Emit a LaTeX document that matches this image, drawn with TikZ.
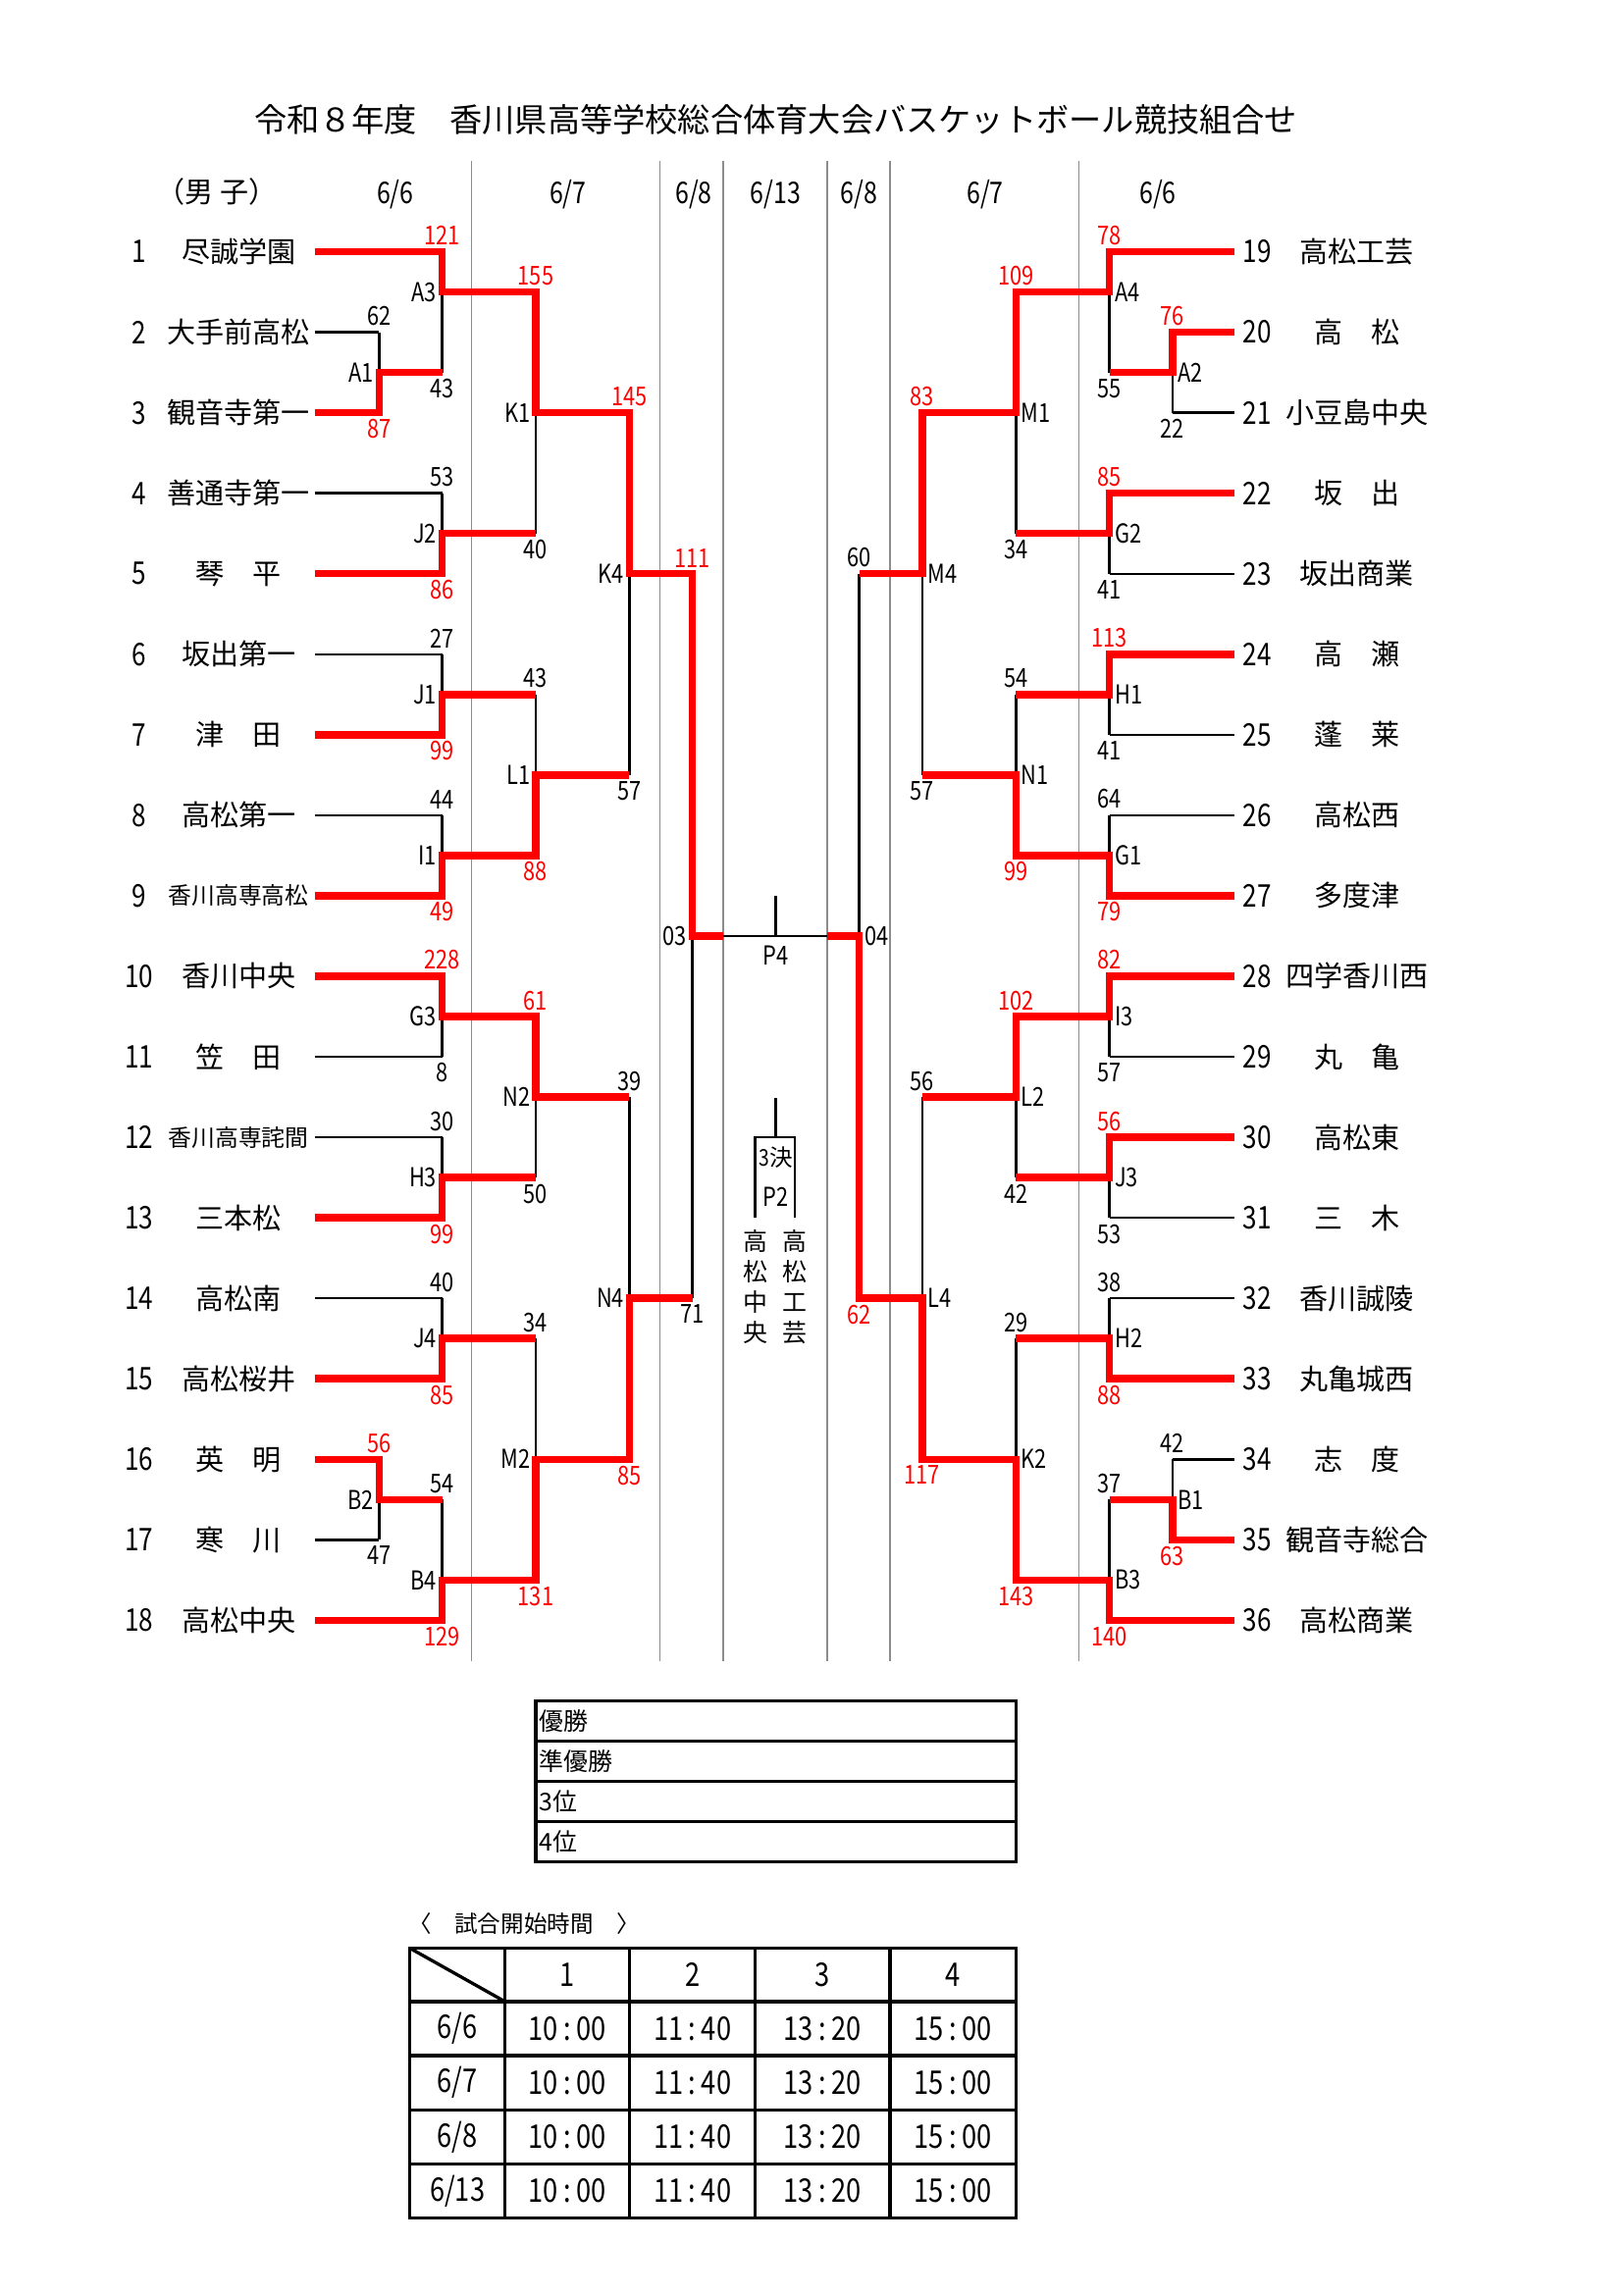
\documentclass[tikz,border=0pt]{standalone}
\usepackage{fontspec}
\setmainfont{Noto Sans CJK JP}
\newfontfamily\narrowfont{Noto Sans CJK JP}[FakeStretch=0.82]
\usetikzlibrary{calc,positioning}
\tikzset{
  win/.style={red, line width=2.7pt},
  lose/.style={black, line width=0.9pt},
  datesep/.style={black!45, line width=0.5pt},
  score/.style={font=\narrowfont\fontsize{9.6}{11}\selectfont, inner sep=0.8pt},
  mlabel/.style={font=\narrowfont\fontsize{9.6}{11}\selectfont, inner sep=0.6pt},
  teamno/.style={font=\narrowfont\fontsize{11.5}{13}\selectfont},
  teamname/.style={font=\fontsize{10.5}{12}\selectfont},
  teamsmall/.style={font=\fontsize{8.6}{10}\selectfont},
  dayhead/.style={font=\narrowfont\fontsize{11}{12}\selectfont},
  boxline/.style={black, line width=1.2pt},
  cell/.style={font=\narrowfont\fontsize{12}{14}\selectfont},
  vname/.style={font=\fontsize{9}{11.2}\selectfont, align=center, inner sep=0pt}
}

\begin{document}
\begin{tikzpicture}[x=0.018936cm, y=-0.018936cm]
  \useasboundingbox (0,0) rectangle (1109,1568);
  % title and day headers
  \node[font=\fontsize{12}{14}\selectfont] (title) at (530,82) {令和８年度　香川県高等学校総合体育大会バスケットボール競技組合せ};
  \node[font=\fontsize{10.5}{12}\selectfont] (sex) at (148,131) {（男 子）};
  \foreach \x/\d [count=\k] in {270/{6/6},388/{6/7},474/{6/8},530/{6/13},587/{6/8},673/{6/7},791/{6/6}}
    \node[dayhead] (day\k) at (\x,133) {\d};
  \foreach \x in {322,451,494,565,608,737}
    \draw[datesep] (\x,110) -- (\x,1135);

  % team line ends
  \foreach \i in {1,...,18}
    \coordinate (t\i) at (215,{172+55*(\i-1)});
  \foreach \i in {19,...,36}
    \coordinate (t\i) at (843,{172+55*(\i-19)});

  % match points
  \foreach \m/\x/\y in {A1/259/254.5, A3/302/199.5, J2/302/364.5, K1/366/282,
      J1/302/474.5, I1/302/584.5, L1/366/529.5, K4/430/392,
      G3/302/694.5, H3/302/804.5, N2/366/749.5, J4/302/914.5,
      B2/259/1024.5, B4/302/1079.5, M2/366/997, N4/430/887, O3/473/639.5,
      A2/801/254.5, A4/758/199.5, G2/758/364.5, M1/694/282,
      H1/758/474.5, G1/758/584.5, N1/694/529.5, M4/630/392,
      I3/758/694.5, J3/758/804.5, L2/694/749.5, H2/758/914.5,
      B1/801/1024.5, B3/758/1079.5, K2/694/997, L4/630/887, O4/587/639.5}
    \coordinate (\m) at (\x,\y);
  \coordinate (f1) at (494,639.5);
  \coordinate (f2) at (565,639.5);
  \coordinate (P4) at (530,639.5);
  \coordinate (P4top) at (530,612);

  % teams
  \foreach \i/\n/\f in {1/尽誠学園/teamname, 2/大手前高松/teamname, 3/観音寺第一/teamname,
      4/善通寺第一/teamname, 5/琴　平/teamname, 6/坂出第一/teamname, 7/津　田/teamname,
      8/高松第一/teamname, 9/香川高専高松/teamsmall, 10/香川中央/teamname, 11/笠　田/teamname,
      12/香川高専詫間/teamsmall, 13/三本松/teamname, 14/高松南/teamname, 15/高松桜井/teamname,
      16/英　明/teamname, 17/寒　川/teamname, 18/高松中央/teamname}
  {
    \node[teamno] (no\i) at (95,{172+55*(\i-1)}) {\i};
    \node[\f] (nm\i) at (163,{172+55*(\i-1)}) {\n};
  }
  \foreach \i/\n in {19/高松工芸, 20/高　松, 21/小豆島中央, 22/坂　出, 23/坂出商業,
      24/高　瀬, 25/蓬　莱, 26/高松西, 27/多度津, 28/四学香川西, 29/丸　亀,
      30/高松東, 31/三　木, 32/香川誠陵, 33/丸亀城西, 34/志　度, 35/観音寺総合, 36/高松商業}
  {
    \node[teamno] (no\i) at (859,{172+55*(\i-19)}) {\i};
    \node[teamname] (nm\i) at (927,{172+55*(\i-19)}) {\n};
  }

  % match verticals and scores
  \foreach \m/\ta/\tb/\va/\vb/\ca/\cb in {
      A1/t2/t3/62/87/black/red, A3/t1/A1/121/43/red/black,
      J2/t4/t5/53/86/black/red, K1/A3/J2/155/40/red/black,
      J1/t6/t7/27/99/black/red, I1/t8/t9/44/49/black/red,
      L1/J1/I1/43/88/black/red, K4/K1/L1/145/57/red/black,
      G3/t10/t11/228/8/red/black, H3/t12/t13/30/99/black/red,
      N2/G3/H3/61/50/red/black, J4/t14/t15/40/85/black/red,
      B2/t16/t17/56/47/red/black, B4/B2/t18/54/129/black/red,
      M2/J4/B4/34/131/black/red, N4/N2/M2/39/85/black/red,
      O3/K4/N4/111/71/red/black,
      A2/t20/t21/76/22/red/black, A4/t19/A2/78/55/red/black,
      G2/t22/t23/85/41/red/black, M1/A4/G2/109/34/red/black,
      H1/t24/t25/113/41/red/black, G1/t26/t27/64/79/black/red,
      N1/H1/G1/54/99/black/red, M4/M1/N1/83/57/red/black,
      I3/t28/t29/82/57/red/black, J3/t30/t31/56/53/red/black,
      L2/I3/J3/102/42/red/black, H2/t32/t33/38/88/black/red,
      B1/t34/t35/42/63/black/red, B3/B1/t36/37/140/black/red,
      K2/H2/B3/29/143/black/red, L4/L2/K2/56/117/black/red,
      O4/M4/L4/60/62/black/red}
  {
    \draw[lose] (\ta -| \m) -- (\tb -| \m);
    \node[score, text=\ca, above=1.4pt] (sa\m) at (\ta -| \m) {\va};
    \node[score, text=\cb, below=1.4pt] (sb\m) at (\tb -| \m) {\vb};
  }

  % losing teams
  \foreach \s/\m in {t2/A1, t4/J2, t6/J1, t8/I1, t11/G3, t12/H3, t14/J4, t17/B2,
      t21/A2, t23/G2, t25/H1, t26/G1, t29/I3, t31/J3, t32/H2, t34/B1}
    \draw[lose] (\s) -- (\s -| \m);

  % final
  \draw[lose] (O3) -- (O4);
  \draw[lose] (P4) -- (P4top);
  \node[mlabel, below=3pt] (p4lab) at (P4) {P4};

  % winners
  \draw[win] (t1) -| (A3) -| (K1) -| (K4) -| (O3) -- (f1);
  \draw[win] (t3) -| (A1) -- (A1 -| A3);
  \draw[win] (t5) -| (J2) -- (J2 -| K1);
  \draw[win] (t7) -| (J1) -- (J1 -| L1);
  \draw[win] (t9) -| (I1) -| (L1) -- (L1 -| K4);
  \draw[win] (t10) -| (G3) -| (N2) -- (N2 -| N4);
  \draw[win] (t13) -| (H3) -- (H3 -| N2);
  \draw[win] (t15) -| (J4) -- (J4 -| M2);
  \draw[win] (t16) -| (B2) -- (B2 -| B4);
  \draw[win] (t18) -| (B4) -| (M2) -| (N4) -- (N4 -| O3);
  \draw[win] (t19) -| (A4) -| (M1) -| (M4) -- (M4 -| O4);
  \draw[win] (t20) -| (A2) -- (A2 -| A4);
  \draw[win] (t22) -| (G2) -- (G2 -| M1);
  \draw[win] (t24) -| (H1) -- (H1 -| N1);
  \draw[win] (t27) -| (G1) -| (N1) -- (N1 -| M4);
  \draw[win] (t28) -| (I3) -| (L2) -- (L2 -| L4);
  \draw[win] (t30) -| (J3) -- (J3 -| L2);
  \draw[win] (t33) -| (H2) -- (H2 -| K2);
  \draw[win] (t35) -| (B1) -- (B1 -| B3);
  \draw[win] (t36) -| (B3) -| (K2) -| (L4) -| (O4) -- (f2);

  % match labels
  \foreach \m/\lab in {A1/A1, A3/A3, J2/J2, K1/K1, J1/J1, I1/I1, L1/L1, K4/K4,
      G3/G3, H3/H3, N2/N2, J4/J4, B2/B2, B4/B4, M2/M2, N4/N4, O3/03}
    \node[mlabel, left=1.2pt] (lb\m) at (\m) {\lab};
  \foreach \m/\lab in {A2/A2, A4/A4, G2/G2, M1/M1, H1/H1, G1/G1, N1/N1, M4/M4,
      I3/I3, J3/J3, L2/L2, H2/H2, B1/B1, B3/B3, K2/K2, L4/L4, O4/04}
    \node[mlabel, right=1.2pt] (lb\m) at (\m) {\lab};

  % third place
  \coordinate (P2top) at (530,750);
  \coordinate (P2) at (530,777);
  \coordinate (P2l) at (516,777);
  \coordinate (P2r) at (543,777);
  \coordinate (P2lb) at (516,832);
  \coordinate (P2rb) at (543,832);
  \draw[lose] (P2top) -- (P2);
  \draw[lose] (P2lb) -- (P2l) -- (P2r) -- (P2rb);
  \node[font=\fontsize{8.5}{10}\selectfont, inner sep=0pt] (p2a) at (530,791) {{\narrowfont 3}決};
  \node[mlabel] (p2b) at (530,818) {P2};
  \node[vname] (fin1) at (516,879) {高\\松\\中\\央};
  \node[vname] (fin2) at (543,879) {高\\松\\工\\芸};

  % result box
  \draw[boxline] (366,1162) rectangle (694,1272);
  \foreach \y in {1189.5,1217,1244.5}
    \draw[boxline] (366,\y) -- (694,\y);
  \foreach \lab [count=\k] in {優勝,準優勝,3位,4位}
    \node[font=\fontsize{9}{10}\selectfont, anchor=west, inner sep=0pt] (rank\k) at (368,{1162+27.5*\k-13.75}) {\lab};

  % start times
  \node[font=\fontsize{8.5}{10}\selectfont] (tthead) at (358,1314) {〈　試合開始時間　〉};
  \draw[boxline] (280,1331) rectangle (694,1515.5);
  \foreach \x in {345,430,516,608}
    \draw[boxline] (\x,1331) -- (\x,1515.5);
  \foreach \y in {1367.5,1404.5,1441.5,1478.5}
    \draw[boxline] (280,\y) -- (694,\y);
  \draw[boxline] (280,1331) -- (345,1367.5);
  \foreach \x [count=\k] in {387.5,473,562,651}
    \node[cell] (h\k) at (\x,1349) {\k};
  \foreach \d [count=\r] in {6/6,6/7,6/8,6/13}
  {
    \node[cell] (d\r) at (312.5,{1386+37*(\r-1)}) {\d};
    \foreach \x/\tm [count=\c] in {387.5/10\,:\,00, 473/11\,:\,40, 562/13\,:\,20, 651/15\,:\,00}
      \node[cell] (c\r-\c) at (\x,{1386+37*(\r-1)}) {\tm};
  }
\end{tikzpicture}
\end{document}
